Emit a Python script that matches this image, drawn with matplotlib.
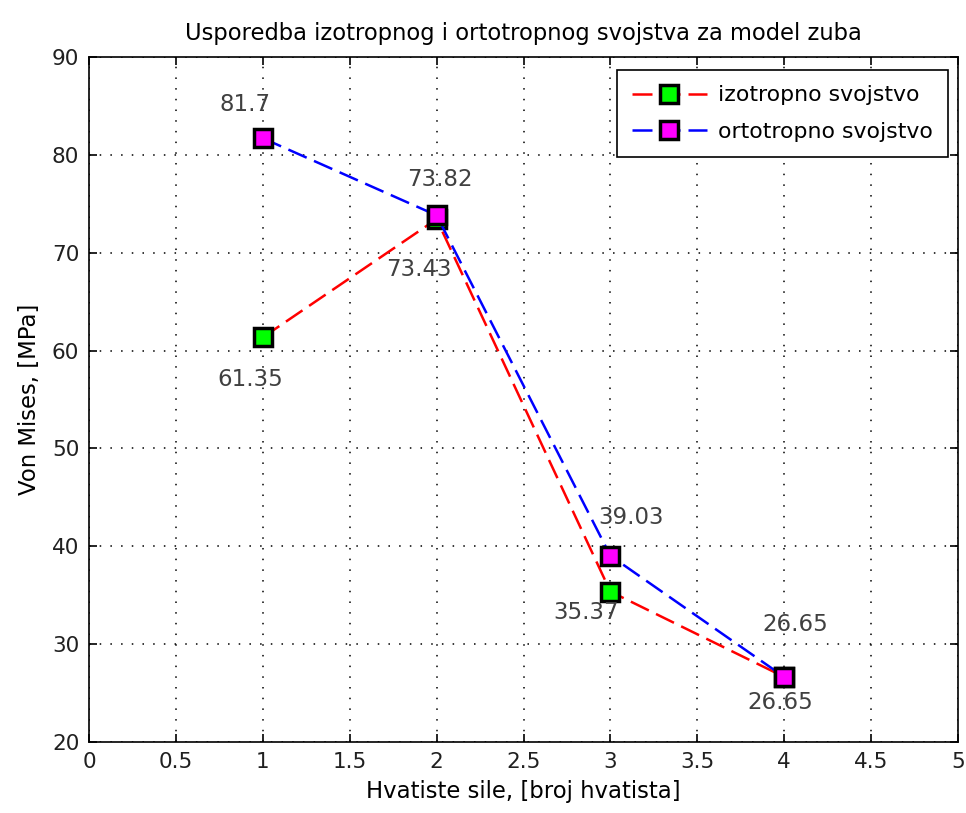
import matplotlib
matplotlib.use("Agg")
import matplotlib.pyplot as plt

plt.rcParams['font.family'] = ['DejaVu Sans']

x_points = [1, 2, 3, 4]
izotropno = [61.35, 73.43, 35.37, 26.65]
ortotropno = [81.7, 73.82, 39.03, 26.65]
izo_labels = ["61.35", "73.43", "35.37", "26.65"]
orto_labels = ["81.7", "73.82", "39.03", "26.65"]
x_ticks = [0, 0.5, 1, 1.5, 2, 2.5, 3, 3.5, 4, 4.5, 5]
x_tick_labels = ["0", "0.5", "1", "1.5", "2", "2.5", "3", "3.5", "4", "4.5", "5"]
y_ticks = [20, 30, 40, 50, 60, 70, 80, 90]

# label offsets (pixels) - layout only
izo_offsets = [(-13, -42), (-18, -50), (-24, -21), (-4, -26)]
orto_offsets = [(-18, 34), (3, 36), (21, 38), (11, 52)]

fig = plt.figure(figsize=(9.66, 8.13), dpi=100)
ax = fig.add_axes([89/966, 1-742/813, (958-89)/966, (742-57)/813])

ls = (0, (8.0, 3.2))
ax.plot(x_points, izotropno, color='red', linestyle=ls, linewidth=1.8,
        marker='s', markersize=13.5, markerfacecolor='#00ff00', markeredgecolor='black',
        markeredgewidth=2.5, label='izotropno svojstvo', zorder=3)
ax.plot(x_points, ortotropno, color='blue', linestyle=ls, linewidth=1.8,
        marker='s', markersize=13.5, markerfacecolor='#ff00ff', markeredgecolor='black',
        markeredgewidth=2.5, label='ortotropno svojstvo', zorder=4)

txt_color = '#404040'
px2pt = 72 / 100
for xv, yv, lab, (dx, dy) in zip(x_points, izotropno, izo_labels, izo_offsets):
    ax.annotate(lab, (xv, yv), xytext=(dx * px2pt, dy * px2pt), textcoords='offset points',
                ha='center', va='center', fontsize=16.5, color=txt_color, zorder=5)
for xv, yv, lab, (dx, dy) in zip(x_points, ortotropno, orto_labels, orto_offsets):
    ax.annotate(lab, (xv, yv), xytext=(dx * px2pt, dy * px2pt), textcoords='offset points',
                ha='center', va='center', fontsize=16.5, color=txt_color, zorder=5)

ax.set_xlim(0, 5)
ax.set_ylim(20, 90)
ax.set_xticks(x_ticks)
ax.set_xticklabels(x_tick_labels)
ax.set_yticks(y_ticks)
ax.tick_params(direction='in', length=6, width=1.2, labelsize=15.5, top=True, right=True,
               labelcolor='#202020')
ax.tick_params(axis='x', pad=7)
ax.tick_params(axis='y', pad=7)
ax.grid(True, color='black', linestyle=(0, (1, 6)), linewidth=1.1)
for s in ax.spines.values():
    s.set_linewidth(1.2)

ax.set_title('Usporedba izotropnog i ortotropnog svojstva za model zuba', fontsize=16.3, pad=12)
ax.set_xlabel('Hvatiste sile, [broj hvatista]', fontsize=16.4, labelpad=6)
ax.set_ylabel('Von Mises, [MPa]', fontsize=16.4, labelpad=8)

leg = ax.legend(loc='upper right', fontsize=15.8, fancybox=False, framealpha=1,
                edgecolor='black', handlelength=3.4, borderpad=0.7, labelspacing=0.75,
                handletextpad=0.5, borderaxespad=0,
                bbox_to_anchor=((948-89)/869, 1-(70-57)/685))
leg.get_frame().set_linewidth(1.2)

fig.savefig('out.png', dpi=100)
